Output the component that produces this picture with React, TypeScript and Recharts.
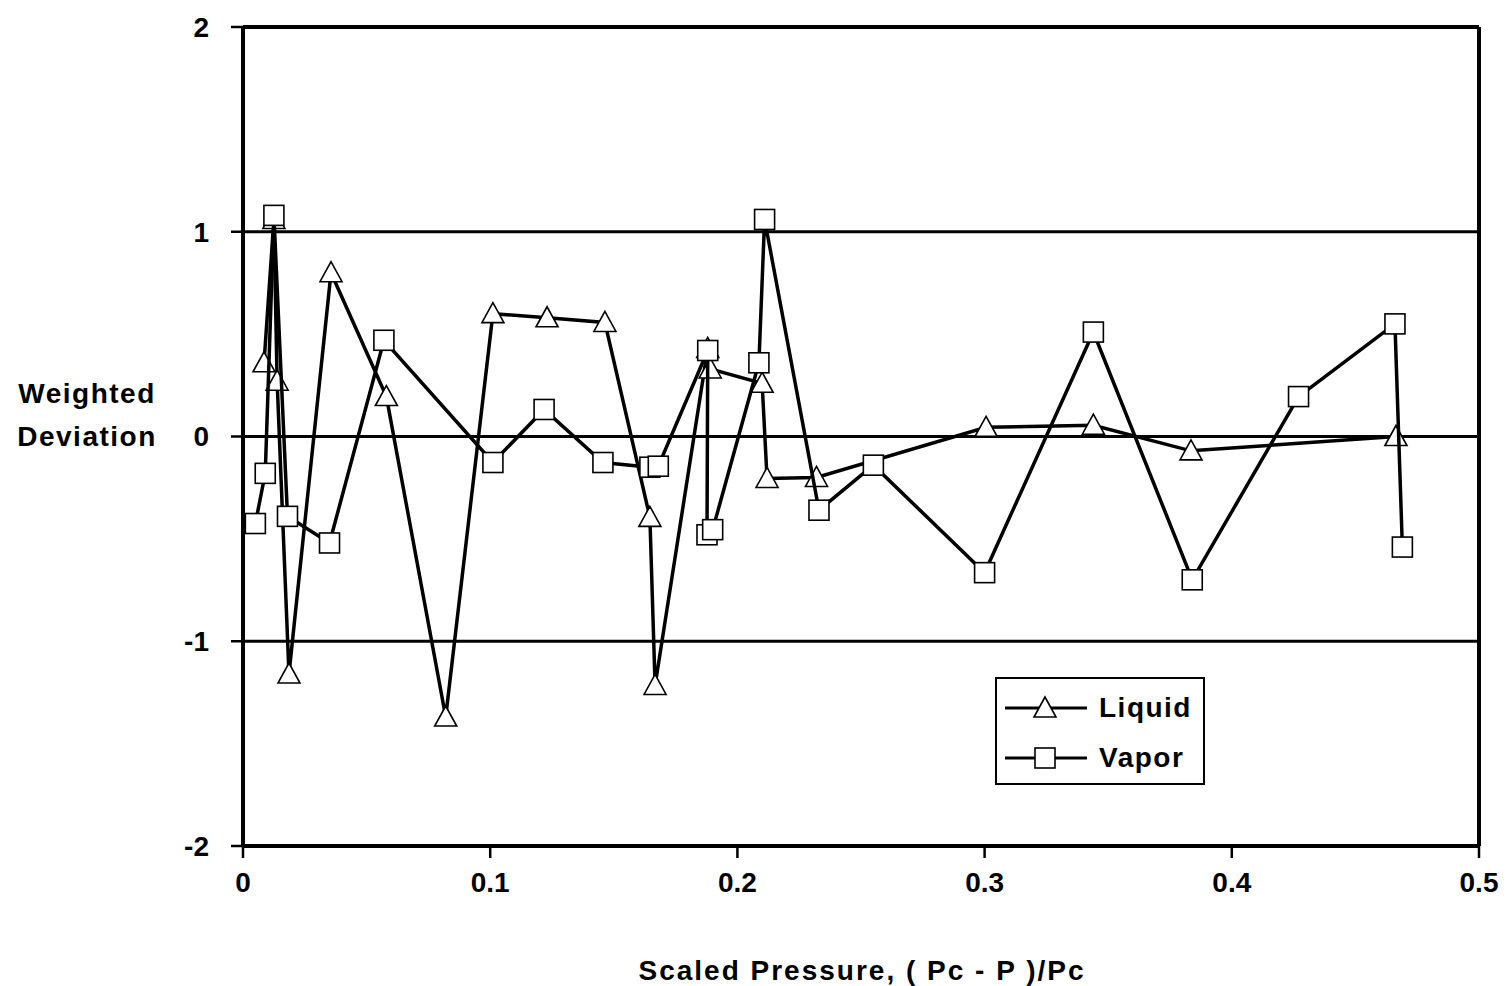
import {
  CartesianGrid,
  Legend,
  ReferenceLine,
  Scatter,
  ScatterChart,
  XAxis,
  YAxis,
} from "recharts";

// scaled pressure (Pc - P)/Pc and weighted deviation, liquid phase
const liquidX = [
  0.0085, 0.0125, 0.0138, 0.0186, 0.0356, 0.058, 0.082, 0.1011, 0.123, 0.1464,
  0.1646, 0.1667, 0.188, 0.189, 0.21, 0.212, 0.232, 0.3006, 0.344, 0.3835,
  0.4664,
];
const liquidY = [
  0.36, 1.06, 0.27, -1.16, 0.8, 0.195, -1.37, 0.6, 0.58, 0.557, -0.395, -1.216,
  0.43, 0.33, 0.26, -0.205, -0.2, 0.045, 0.055, -0.07, 0.0,
];

// same for the vapor phase
const vaporX = [
  0.005, 0.009, 0.0125, 0.018, 0.035, 0.057, 0.1011, 0.1218, 0.1456, 0.1646,
  0.168, 0.188, 0.1877, 0.19, 0.2087, 0.211, 0.233, 0.255, 0.3, 0.344, 0.384,
  0.427, 0.466, 0.469,
];
const vaporY = [
  -0.425, -0.18, 1.08, -0.39, -0.52, 0.47, -0.127, 0.132, -0.127, -0.15,
  -0.145, 0.42, -0.48, -0.455, 0.36, 1.06, -0.36, -0.14, -0.665, 0.51, -0.7,
  0.195, 0.55, -0.54,
];

const xTicks = [0, 0.1, 0.2, 0.3, 0.4, 0.5];
const yTicks = [-2, -1, 0, 1, 2];

const liquid = liquidX.map((x, i) => ({ x, y: liquidY[i] }));
const vapor = vaporX.map((x, i) => ({ x, y: vaporY[i] }));

const FONT = "'Liberation Sans', Arial, sans-serif";

const Triangle = (props: any) => {
  const { cx, cy } = props;
  if (cx == null || cy == null) return null;
  return (
    <polygon
      points={`${cx},${cy - 11} ${cx - 11},${cy + 9} ${cx + 11},${cy + 9}`}
      fill="#fff"
      stroke="#000"
      strokeWidth={1.6}
    />
  );
};

const Square = (props: any) => {
  const { cx, cy } = props;
  if (cx == null || cy == null) return null;
  return (
    <rect
      x={cx - 10}
      y={cy - 10}
      width={20}
      height={20}
      fill="#fff"
      stroke="#000"
      strokeWidth={1.6}
    />
  );
};

const renderLegend = () => (
  <div
    style={{
      width: 210,
      height: 108,
      border: "2px solid #000",
      background: "#fff",
      fontFamily: FONT,
      fontWeight: "bold",
      fontSize: 28,
      letterSpacing: 1.5,
      boxSizing: "border-box",
    }}
  >
    {[
      { name: "Liquid", Mark: Triangle },
      { name: "Vapor", Mark: Square },
    ].map(({ name, Mark }, i) => (
      <div
        key={name}
        style={{
          display: "flex",
          alignItems: "center",
          height: 50,
          marginTop: i === 0 ? 4 : 0,
        }}
      >
        <svg width={100} height={50}>
          <line x1={8} y1={25} x2={90} y2={25} stroke="#000" strokeWidth={3} />
          <Mark cx={48} cy={25} />
        </svg>
        <span style={{ marginLeft: 2 }}>{name}</span>
      </div>
    ))}
  </div>
);

const yLabel = () => (
  <g
    fontFamily={FONT}
    fontWeight="bold"
    fontSize={28}
    letterSpacing={1.5}
    fill="#000"
  >
    <text x={87} y={403} textAnchor="middle">
      Weighted
    </text>
    <text x={87} y={446} textAnchor="middle">
      Deviation
    </text>
  </g>
);

const xLabel = () => (
  <text
    x={862}
    y={980}
    textAnchor="middle"
    fontFamily={FONT}
    fontWeight="bold"
    fontSize={28}
    letterSpacing={2}
    fill="#000"
  >
    Scaled Pressure, ( Pc - P )/Pc
  </text>
);

const tickStyle = {
  fontFamily: FONT,
  fontWeight: "bold",
  fontSize: 28,
  fill: "#000",
};

export default function App() {
  return (
    <div style={{ position: "absolute", left: 0, top: 0, background: "#fff" }}>
      <ScatterChart
        width={1507}
        height={986}
        margin={{ top: 27, right: 28, bottom: 80, left: 183 }}
      >
        <CartesianGrid vertical={false} stroke="#000" strokeWidth={3} />
        <XAxis
          type="number"
          dataKey="x"
          domain={[0, 0.5]}
          ticks={xTicks}
          height={60}
          tickSize={12}
          tickMargin={14}
          axisLine={{ stroke: "#000", strokeWidth: 4 }}
          tickLine={{ stroke: "#000", strokeWidth: 2.5 }}
          tick={tickStyle}
          allowDataOverflow
          label={{ content: xLabel }}
        />
        <YAxis
          type="number"
          dataKey="y"
          domain={[-2, 2]}
          ticks={yTicks}
          width={60}
          tickSize={12}
          tickMargin={22}
          axisLine={{ stroke: "#000", strokeWidth: 4 }}
          tickLine={{ stroke: "#000", strokeWidth: 2.5 }}
          tick={tickStyle}
          allowDataOverflow
          label={{ content: yLabel }}
        />
        <ReferenceLine y={2} stroke="#000" strokeWidth={4} />
        <ReferenceLine x={0.5} stroke="#000" strokeWidth={4} />
        <Legend
          layout="vertical"
          align="center"
          verticalAlign="middle"
          content={renderLegend}
          wrapperStyle={{ position: "absolute", left: 995, top: 677, width: 210 }}
        />
        <Scatter
          name="Liquid"
          data={liquid}
          line={{ stroke: "#000", strokeWidth: 3.5 }}
          lineType="joint"
          shape={Triangle}
          isAnimationActive={false}
        />
        <Scatter
          name="Vapor"
          data={vapor}
          line={{ stroke: "#000", strokeWidth: 3.5 }}
          lineType="joint"
          shape={Square}
          isAnimationActive={false}
        />
      </ScatterChart>
    </div>
  );
}
